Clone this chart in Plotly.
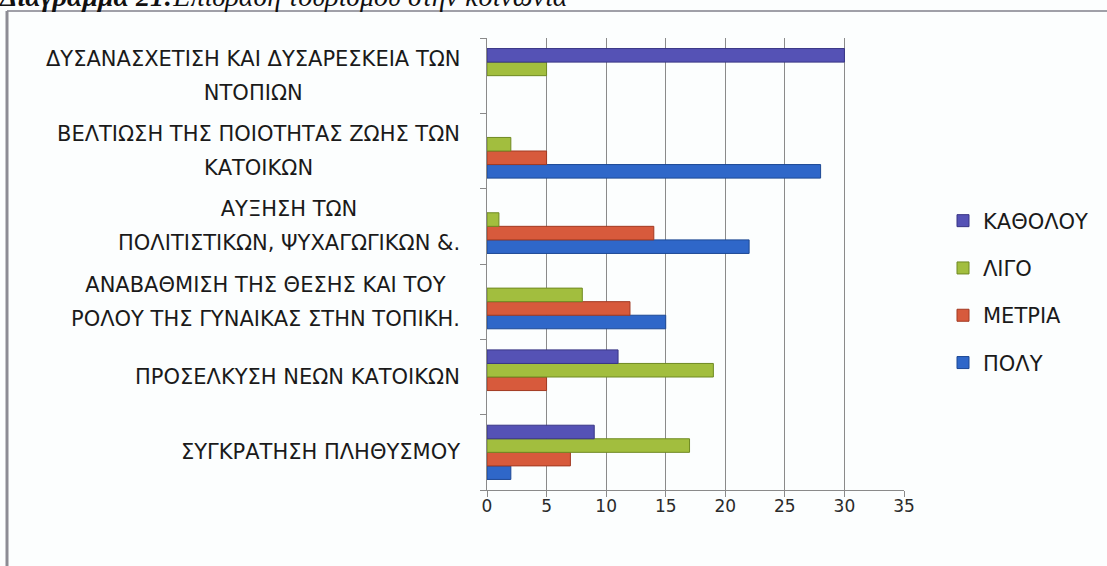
import plotly.graph_objects as go

# categories, bottom to top as drawn
categories = [
    "ΣΥΓΚΡΑΤΗΣΗ ΠΛΗΘΥΣΜΟΥ",
    "ΠΡΟΣΕΛΚΥΣΗ ΝΕΩΝ ΚΑΤΟΙΚΩΝ",
    "ΑΝΑΒΑΘΜΙΣΗ ΤΗΣ ΘΕΣΗΣ ΚΑΙ ΤΟΥ<br>ΡΟΛΟΥ ΤΗΣ ΓΥΝΑΙΚΑΣ ΣΤΗΝ ΤΟΠΙΚΗ.",
    "ΑΥΞΗΣΗ ΤΩΝ<br>ΠΟΛΙΤΙΣΤΙΚΩΝ, ΨΥΧΑΓΩΓΙΚΩΝ &.",
    "ΒΕΛΤΙΩΣΗ ΤΗΣ ΠΟΙΟΤΗΤΑΣ ΖΩΗΣ ΤΩΝ<br>ΚΑΤΟΙΚΩΝ",
    "ΔΥΣΑΝΑΣΧΕΤΙΣΗ ΚΑΙ ΔΥΣΑΡΕΣΚΕΙΑ ΤΩΝ<br>ΝΤΟΠΙΩΝ",
]
poly = [2, 0, 15, 22, 28, 0]
metria = [7, 5, 12, 14, 5, 0]
ligo = [17, 19, 8, 1, 2, 5]
katholou = [9, 11, 0, 0, 0, 30]

x_ticks = [0, 5, 10, 15, 20, 25, 30, 35]
caption = "<b><i>Διάγραμμα 21:</i></b><i>Επίδραση τουρισμού στην κοινωνία</i>"

series = [
    ("ΠΟΛΥ", poly, "#2f67c9", "#1d4894", 4),
    ("ΜΕΤΡΙΑ", metria, "#d75a3c", "#a23a22", 3),
    ("ΛΙΓΟ", ligo, "#a2be3e", "#6f8a22", 2),
    ("ΚΑΘΟΛΟΥ", katholou, "#5552b5", "#383585", 1),
]

ids = list(range(len(categories)))

fig = go.Figure()
for name, vals, col, edge, rank in series:
    fig.add_trace(go.Bar(
        y=ids, x=vals, name=name, orientation="h",
        marker=dict(color=col, line=dict(color=edge, width=[1 if v else 0 for v in vals])),
        legendgroup=name, legendrank=rank,
    ))

# plot area in page pixels: x 487..904, y 38..490
def px(p):
    return (p - 487) / 417

def py(p):
    return (490 - p) / 452

# category labels as annotations so the lines can be centred and spaced like Excel
for i, lab in enumerate(categories):
    fig.add_annotation(
        x=0, xref="paper", y=i, yref="y", xanchor="right", yanchor="middle",
        xshift=-25, align="center", showarrow=False,
        text="<span style='font-size:21px'>" + lab.replace("<br>", "</span><br><span style='font-size:21px'>") + "</span>",
        font=dict(family="DejaVu Sans", size=26, color="#1a1a1a"),
    )

# caption of the scan, cut off at the top edge like in the original
fig.add_annotation(
    x=px(-3), xref="paper", y=py(14), yref="paper", xanchor="left", yanchor="bottom",
    showarrow=False, text=caption,
    font=dict(family="Liberation Serif", size=28, color="#111111"),
)

# frame lines of the scanned chart area
fig.add_shape(type="line", xref="paper", yref="paper",
              x0=px(7), x1=px(1107), y0=py(11), y1=py(11),
              line=dict(color="#a0a0a8", width=2))
fig.add_shape(type="line", xref="paper", yref="paper",
              x0=px(7), x1=px(7), y0=py(11), y1=py(566),
              line=dict(color="#8c8c94", width=3))

fig.update_layout(
    width=1107, height=566,
    margin=dict(l=487, r=203, t=38, b=76),
    paper_bgcolor="#fcfefe", plot_bgcolor="#fcfefe",
    barmode="group", bargap=0.28, bargroupgap=0,
    showlegend=True,
    legend=dict(
        x=px(943), y=py(292), xanchor="left", yanchor="middle",
        traceorder="grouped", tracegroupgap=17,
        font=dict(family="DejaVu Sans", size=21, color="#1a1a1a"),
        itemwidth=30, bgcolor="rgba(0,0,0,0)",
    ),
    font=dict(family="DejaVu Sans"),
)
fig.update_xaxes(
    range=[0, 35], tickvals=x_ticks, showgrid=True, gridcolor="#8a8a8a", gridwidth=1,
    showline=True, linecolor="#8a8a8a", ticks="outside", ticklen=6, tickcolor="#8a8a8a",
    tickfont=dict(family="DejaVu Sans", size=17, color="#2a2a2a"), zeroline=False,
    ticklabelstandoff=-5,
)
fig.update_yaxes(
    type="category", range=[-0.5, 5.5], showticklabels=False, tickson="boundaries",
    ticks="outside", ticklen=6, tickcolor="#8a8a8a", showline=True, linecolor="#8a8a8a",
    showgrid=False, zeroline=False,
)

# the page body margin would shift the figure by 8px
fig.write_html("out.html", config={"displayModeBar": False},
               post_script="document.body.style.margin='0';")
